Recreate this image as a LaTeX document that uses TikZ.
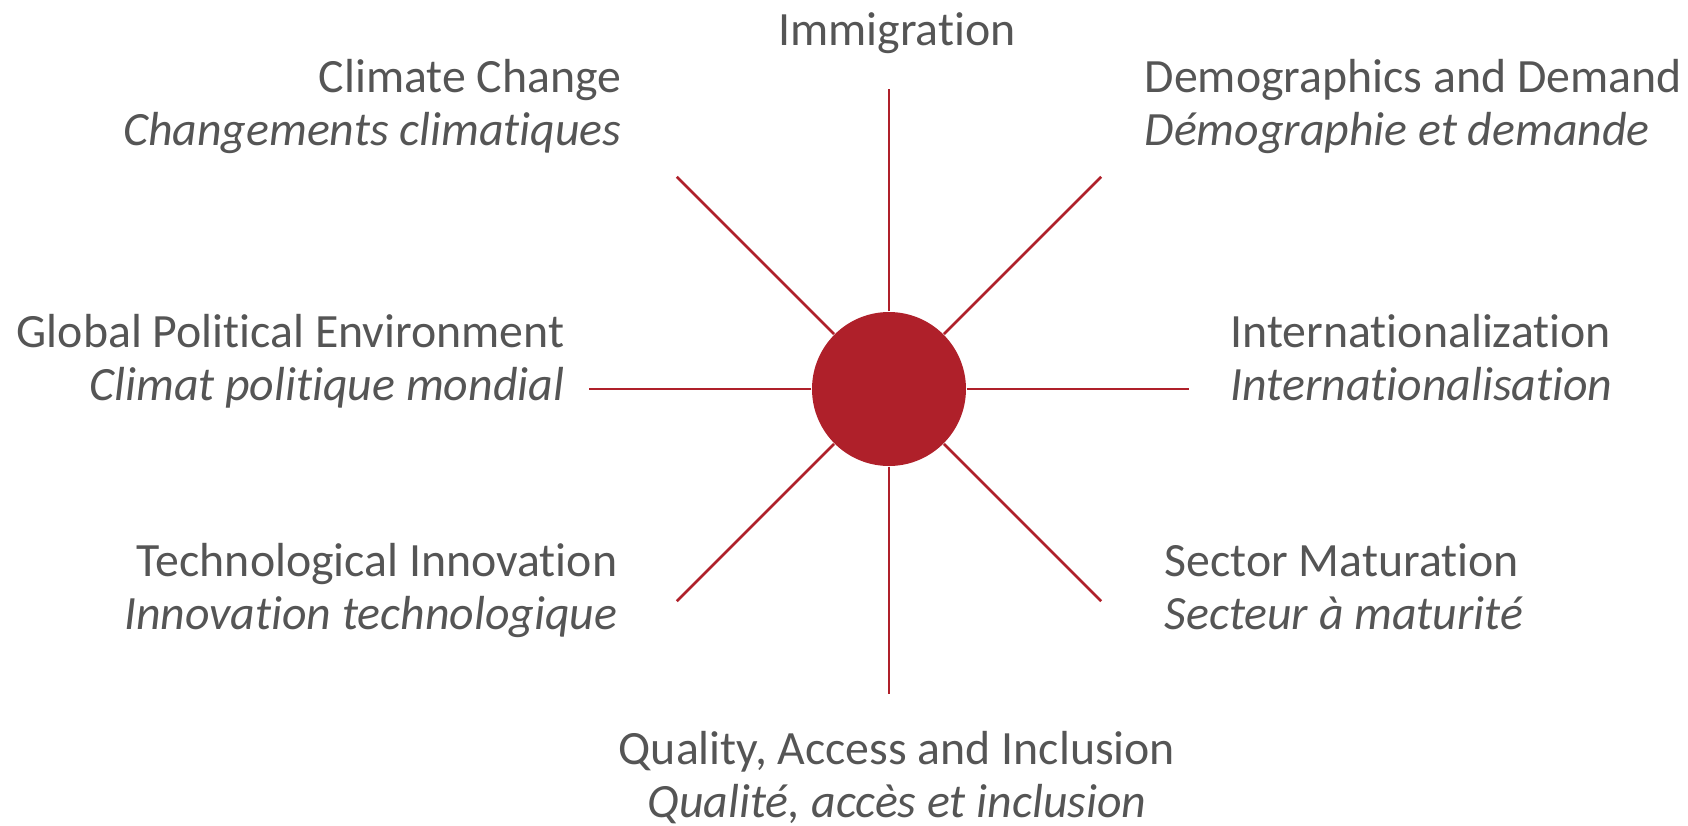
\documentclass[tikz,border=0pt]{standalone}
\usepackage{fontspec}
\setmainfont{Carlito}[Ligatures={NoCommon,NoContextual}]
\definecolor{hubred}{HTML}{AF202A}
\definecolor{txtgray}{HTML}{555555}
\begin{document}
\begin{tikzpicture}[
hub/.style={%
circle,
fill=hubred,
minimum size=1.54cm,
inner sep=0pt
},
spoke/.style={%
draw=hubred,
line width=0.8pt
},
lbl/.style={%
text=txtgray,
inner sep=0pt,
font=\fontsize{13.6}{14.8}\selectfont
}
]
\useasboundingbox(-8.89,-4.36)rectangle(7.99,3.89);
%% Centre
\node[hub]at(0,0)(hub){};
%% Spoke ends
\coordinate(eN)at(90:3);
\coordinate(eNE)at(45:3);
\coordinate(eE)at(0:3);
\coordinate(eSE)at(-45:3);
\coordinate(eS)at(-90:3.05);
\coordinate(eSW)at(-135:3);
\coordinate(eW)at(180:3);
\coordinate(eNW)at(135:3);
\draw[spoke](hub)--(eN);
\draw[spoke](hub)--(eNE);
\draw[spoke](hub)--(eE);
\draw[spoke](hub)--(eSE);
\draw[spoke](hub)--(eS);
\draw[spoke](hub)--(eSW);
\draw[spoke](hub)--(eW);
\draw[spoke](hub)--(eNW);
%% Labels
\node[lbl,anchor=base]at(0.08,3.44)(immig){Immigration};
\node[lbl,align=right,anchor=base east]at(-2.67,2.44)(climate){Climate Change\\\textit{Changements climatiques}};
\node[lbl,align=right,anchor=base east]at(-3.24,-0.11)(politic){Global Political Environment\\\textit{Climat politique mondial}};
\node[lbl,align=right,anchor=base east]at(-2.71,-2.40)(techno){Technological Innovation\\\textit{Innovation technologique}};
\node[lbl,align=left,anchor=base west]at(2.55,2.44)(demog){Demographics and Demand\\\textit{Démographie et demande}};
\node[lbl,align=left,anchor=base west]at(3.41,-0.11)(intl){Internationalization\\\textit{Internationalisation}};
\node[lbl,align=left,anchor=base west]at(2.75,-2.40)(sector){Sector Maturation\\\textit{Secteur à maturité}};
\node[lbl,align=center,anchor=base]at(0.08,-4.28)(quality){Quality, Access and Inclusion\\\textit{Qualité, accès et inclusion}};
\end{tikzpicture}
\end{document}
